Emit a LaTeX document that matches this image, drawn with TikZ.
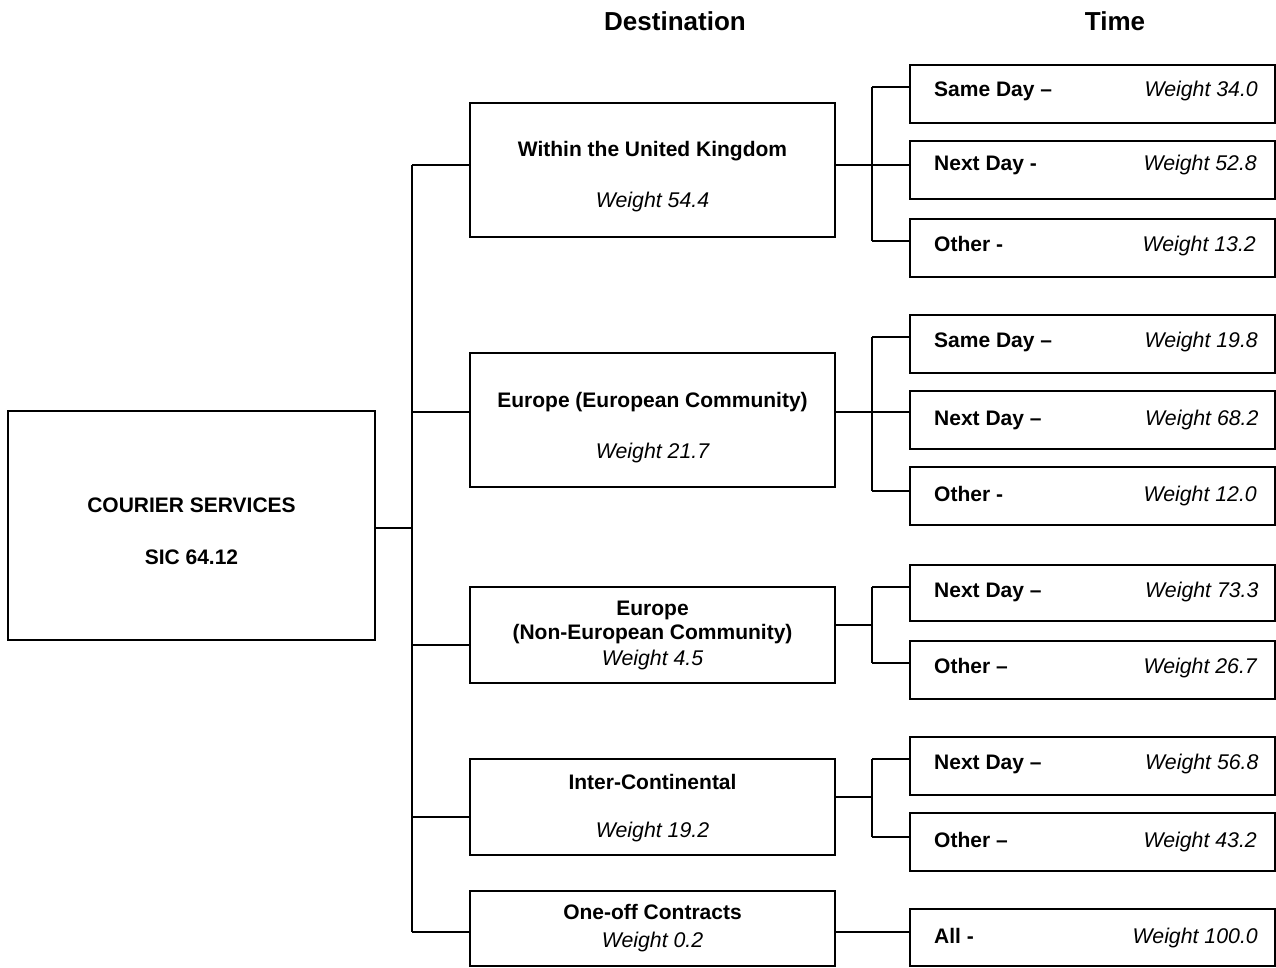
\documentclass[tikz,border=0pt]{standalone}
\usepackage{fontspec}
\setmainfont{Liberation Sans}
\begin{document}
\begin{tikzpicture}[x=1pt,y=-1pt,
  box/.style={draw, line width=1.3pt, rectangle, inner sep=0pt},
  conn/.style={line width=1.3pt},
  head/.style={font=\fontsize{26}{30}\selectfont\bfseries, inner sep=0pt},
  lbl/.style={font=\fontsize{21}{25}\selectfont\bfseries, inner sep=0pt},
  wt/.style={font=\fontsize{21.3}{25}\selectfont\itshape, inner sep=0pt}]
\useasboundingbox (0,0) rectangle (1276,967);
% headings
\node[head, anchor=base] (hdest) at (675,30) {Destination};
\node[head, anchor=base] (htime) at (1115,30) {Time};
% root
\node[box, minimum width=367pt, minimum height=229pt] (root) at (191.5,525.5) {};
\node[lbl, anchor=base] (rootA) at (191.5,512) {COURIER SERVICES};
\node[lbl, anchor=base] (rootB) at (191.5,564) {SIC 64.12};
% level 2 boxes
\node[box, minimum width=365pt, minimum height=134pt] (d1) at (652.5,170) {};
\node[box, minimum width=365pt, minimum height=134pt] (d2) at (652.5,420) {};
\node[box, minimum width=365pt, minimum height=96pt] (d3) at (652.5,635) {};
\node[box, minimum width=365pt, minimum height=96pt] (d4) at (652.5,807) {};
\node[box, minimum width=365pt, minimum height=75pt] (d5) at (652.5,928.5) {};
\node[lbl, anchor=base] (d1a) at (652.5,156) {Within the United Kingdom};
\node[wt, anchor=base] (d1b) at (652.5,207) {Weight 54.4};
\node[lbl, anchor=base] (d2a) at (652.5,407) {Europe (European Community)};
\node[wt, anchor=base] (d2b) at (652.5,458) {Weight 21.7};
\node[lbl, anchor=base] (d3a) at (652.5,615) {Europe};
\node[lbl, anchor=base] (d3b) at (652.5,639) {(Non-European Community)};
\node[wt, anchor=base] (d3c) at (652.5,665) {Weight 4.5};
\node[lbl, anchor=base] (d4a) at (652.5,789) {Inter-Continental};
\node[wt, anchor=base] (d4b) at (652.5,837) {Weight 19.2};
\node[lbl, anchor=base] (d5a) at (652.5,919) {One-off Contracts};
\node[wt, anchor=base] (d5b) at (652.5,947) {Weight 0.2};
% level 3 boxes
\node[box, minimum width=365pt, minimum height=58pt] (t11) at (1092.5,94) {};
\node[box, minimum width=365pt, minimum height=58pt] (t12) at (1092.5,170) {};
\node[box, minimum width=365pt, minimum height=58pt] (t13) at (1092.5,248) {};
\node[box, minimum width=365pt, minimum height=58pt] (t21) at (1092.5,344) {};
\node[box, minimum width=365pt, minimum height=58pt] (t22) at (1092.5,420) {};
\node[box, minimum width=365pt, minimum height=58pt] (t23) at (1092.5,496) {};
\node[box, minimum width=365pt, minimum height=56pt] (t31) at (1092.5,593) {};
\node[box, minimum width=365pt, minimum height=58pt] (t32) at (1092.5,670) {};
\node[box, minimum width=365pt, minimum height=58pt] (t41) at (1092.5,766) {};
\node[box, minimum width=365pt, minimum height=58pt] (t42) at (1092.5,842) {};
\node[box, minimum width=365pt, minimum height=57pt] (t51) at (1092.5,937.5) {};
% level 3 texts
\node[lbl, anchor=base west] (t11a) at (934,96) {Same Day –};
\node[wt, anchor=base east] (t11b) at (1258,96) {Weight 34.0};
\node[lbl, anchor=base west] (t12a) at (934,170) {Next Day -};
\node[wt, anchor=base east] (t12b) at (1257,170) {Weight 52.8};
\node[lbl, anchor=base west] (t13a) at (934,251) {Other -};
\node[wt, anchor=base east] (t13b) at (1256,251) {Weight 13.2};
\node[lbl, anchor=base west] (t21a) at (934,347) {Same Day –};
\node[wt, anchor=base east] (t21b) at (1258,347) {Weight 19.8};
\node[lbl, anchor=base west] (t22a) at (934,425) {Next Day –};
\node[wt, anchor=base west] (t22b) at (1145,425) {Weight 68.2};
\node[lbl, anchor=base west] (t23a) at (934,501) {Other -};
\node[wt, anchor=base east] (t23b) at (1257,501) {Weight 12.0};
\node[lbl, anchor=base west] (t31a) at (934,597) {Next Day –};
\node[wt, anchor=base west] (t31b) at (1145,597) {Weight 73.3};
\node[lbl, anchor=base west] (t32a) at (934,673) {Other –};
\node[wt, anchor=base east] (t32b) at (1257,673) {Weight 26.7};
\node[lbl, anchor=base west] (t41a) at (934,769) {Next Day –};
\node[wt, anchor=base west] (t41b) at (1145,769) {Weight 56.8};
\node[lbl, anchor=base west] (t42a) at (934,847) {Other –};
\node[wt, anchor=base east] (t42b) at (1257,847) {Weight 43.2};
\node[lbl, anchor=base west] (t51a) at (934,943) {All -};
\node[wt, anchor=base east] (t51b) at (1258,943) {Weight 100.0};
% spine
\coordinate (j0) at (412,528);
\coordinate (s1) at (412,165);
\coordinate (s2) at (412,412);
\coordinate (s3) at (412,645);
\coordinate (s4) at (412,817);
\coordinate (s5) at (412,932);
\draw[conn] (root.east |- j0) -- (j0);
\draw[conn] (s1) -- (s5);
\draw[conn] (s1) -- (s1 -| d1.west);
\draw[conn] (s2) -- (s2 -| d2.west);
\draw[conn] (s3) -- (s3 -| d3.west);
\draw[conn] (s4) -- (s4 -| d4.west);
\draw[conn] (s5) -- (s5 -| d5.west);
% group 1
\coordinate (g1m) at (872,165);
\coordinate (g1t) at (872,87);
\coordinate (g1b) at (872,241);
\draw[conn] (d1.east |- g1m) -- (g1m);
\draw[conn] (g1t) -- (g1b);
\draw[conn] (g1t) -- (g1t -| t11.west);
\draw[conn] (g1m) -- (g1m -| t12.west);
\draw[conn] (g1b) -- (g1b -| t13.west);
% group 2
\coordinate (g2m) at (872,412);
\coordinate (g2t) at (872,337);
\coordinate (g2b) at (872,491);
\draw[conn] (d2.east |- g2m) -- (g2m);
\draw[conn] (g2t) -- (g2b);
\draw[conn] (g2t) -- (g2t -| t21.west);
\draw[conn] (g2m) -- (g2m -| t22.west);
\draw[conn] (g2b) -- (g2b -| t23.west);
% group 3
\coordinate (g3m) at (872,625);
\coordinate (g3t) at (872,587);
\coordinate (g3b) at (872,663);
\draw[conn] (d3.east |- g3m) -- (g3m);
\draw[conn] (g3t) -- (g3b);
\draw[conn] (g3t) -- (g3t -| t31.west);
\draw[conn] (g3b) -- (g3b -| t32.west);
% group 4
\coordinate (g4m) at (872,797);
\coordinate (g4t) at (872,759);
\coordinate (g4b) at (872,837);
\draw[conn] (d4.east |- g4m) -- (g4m);
\draw[conn] (g4t) -- (g4b);
\draw[conn] (g4t) -- (g4t -| t41.west);
\draw[conn] (g4b) -- (g4b -| t42.west);
% group 5
\coordinate (g5) at (872,932);
\draw[conn] (d5.east |- g5) -- (g5 -| t51.west);
\end{tikzpicture}
\end{document}
